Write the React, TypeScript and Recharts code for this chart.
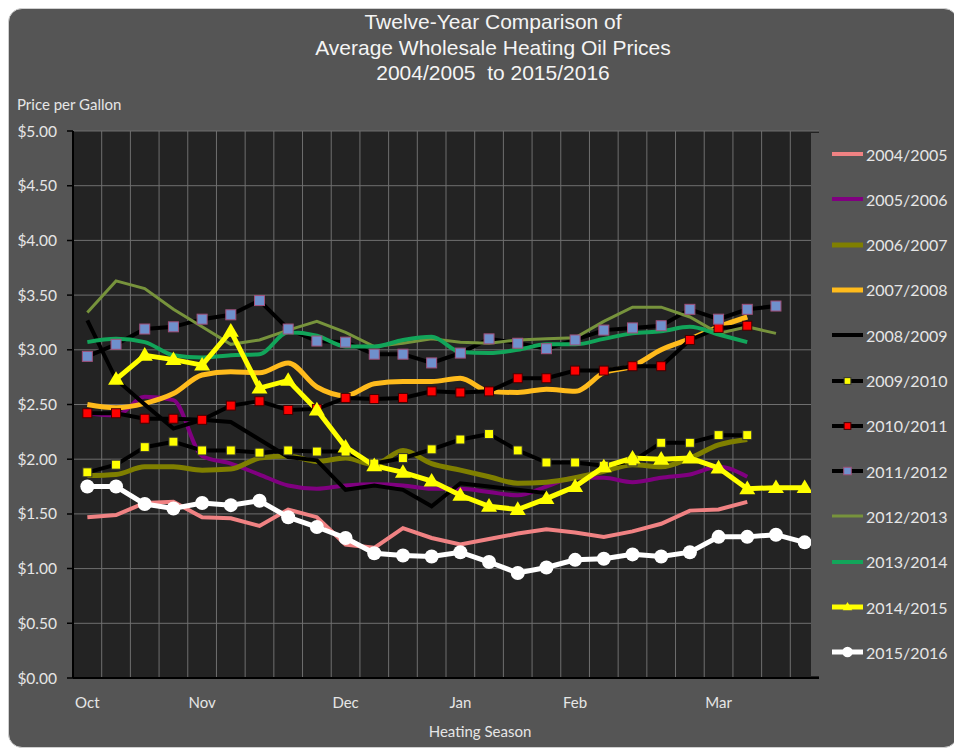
import React from 'react';
import { LineChart, Line, XAxis, YAxis, CartesianGrid, ReferenceLine } from 'recharts';

const seasons = [
  '2004/2005', '2005/2006', '2006/2007', '2007/2008', '2008/2009', '2009/2010',
  '2010/2011', '2011/2012', '2012/2013', '2013/2014', '2014/2015', '2015/2016',
];

const monthLabels = ['Oct', 'Nov', 'Dec', 'Jan', 'Feb', 'Mar'];
const monthWeeks = [0, 4, 9, 13, 17, 22];
const weekCount = 26;
const yTicks = [0, 0.5, 1, 1.5, 2, 2.5, 3, 3.5, 4, 4.5, 5];

const s0405 = [1.47, 1.49, 1.60, 1.61, 1.47, 1.46, 1.39, 1.54, 1.47, 1.22, 1.19, 1.37, 1.28, 1.22, 1.27, 1.32, 1.36, 1.33, 1.29, 1.34, 1.41, 1.53, 1.54, 1.61, null, null];
const s0506 = [2.42, 2.40, 2.57, 2.54, 2.03, 1.96, 1.86, 1.76, 1.73, 1.76, 1.77, 1.76, 1.73, 1.73, 1.70, 1.67, 1.75, 1.83, 1.83, 1.79, 1.83, 1.86, 1.93, 1.84, null, null];
const s0607 = [1.85, 1.86, 1.93, 1.93, 1.90, 1.91, 2.01, 2.03, 1.98, 2.01, 1.95, 2.08, 1.96, 1.90, 1.84, 1.78, 1.79, 1.83, 1.89, 1.95, 1.93, 2.01, 2.13, 2.18, null, null];
const s0708 = [2.50, 2.47, 2.51, 2.60, 2.77, 2.80, 2.79, 2.88, 2.66, 2.58, 2.69, 2.71, 2.71, 2.74, 2.62, 2.61, 2.64, 2.62, 2.79, 2.85, 3.00, 3.10, 3.21, 3.30, null, null];
const s0809 = [3.27, 2.73, 2.50, 2.28, 2.36, 2.34, 2.18, 2.02, 1.99, 1.72, 1.76, 1.72, 1.57, 1.78, 1.75, 1.72, 1.69, null, null, null, null, null, null, null, null, null];
const s0910 = [1.88, 1.95, 2.11, 2.16, 2.08, 2.08, 2.06, 2.08, 2.07, 2.07, 1.96, 2.01, 2.09, 2.18, 2.23, 2.08, 1.97, 1.97, 1.94, 1.98, 2.15, 2.15, 2.22, 2.22, null, null];
const s1011 = [2.42, 2.42, 2.37, 2.37, 2.36, 2.49, 2.53, 2.45, 2.46, 2.56, 2.55, 2.56, 2.62, 2.61, 2.62, 2.74, 2.74, 2.81, 2.81, 2.85, 2.85, 3.09, 3.20, 3.22, null, null];
const s1112 = [2.94, 3.05, 3.19, 3.21, 3.28, 3.32, 3.45, 3.19, 3.08, 3.07, 2.96, 2.96, 2.88, 2.97, 3.10, 3.06, 3.01, 3.09, 3.18, 3.20, 3.22, 3.37, 3.28, 3.37, 3.40, null];
const s1213 = [3.34, 3.63, 3.56, 3.37, 3.21, 3.05, 3.09, 3.18, 3.26, 3.16, 3.03, 3.06, 3.10, 3.07, 3.06, 3.09, 3.10, 3.11, 3.26, 3.39, 3.39, 3.30, 3.15, 3.21, 3.15, null];
const s1314 = [3.07, 3.10, 3.07, 2.95, 2.93, 2.95, 2.96, 3.16, 3.13, 3.03, 3.03, 3.09, 3.12, 2.98, 2.97, 3.00, 3.05, 3.05, 3.10, 3.15, 3.17, 3.21, 3.14, 3.07, null, null];
const s1415 = [null, 2.73, 2.95, 2.91, 2.86, 3.17, 2.65, 2.72, 2.45, 2.11, 1.94, 1.88, 1.80, 1.67, 1.57, 1.54, 1.64, 1.75, 1.93, 2.01, 2.00, 2.01, 1.92, 1.73, 1.74, 1.74];
const s1516 = [1.75, 1.75, 1.59, 1.55, 1.60, 1.58, 1.62, 1.47, 1.38, 1.28, 1.14, 1.12, 1.11, 1.15, 1.06, 0.96, 1.01, 1.08, 1.09, 1.13, 1.11, 1.15, 1.29, 1.29, 1.31, 1.24];

const seriesValues = [s0405, s0506, s0607, s0708, s0809, s0910, s1011, s1112, s1213, s1314, s1415, s1516];

type Marker = 'none' | 'square' | 'triangle' | 'circle';
interface SeriesStyle { color: string; width: number; curve: 'linear' | 'monotone'; marker: Marker; mFill?: string; mStroke?: string; mSize?: number; }

const styles: SeriesStyle[] = [
  { color: '#f08283', width: 4, curve: 'linear', marker: 'none' },
  { color: '#800080', width: 4, curve: 'monotone', marker: 'none' },
  { color: '#7f7f00', width: 5, curve: 'monotone', marker: 'none' },
  { color: '#ffbb1c', width: 5, curve: 'monotone', marker: 'none' },
  { color: '#000000', width: 4, curve: 'linear', marker: 'none' },
  { color: '#000000', width: 4, curve: 'linear', marker: 'square', mFill: '#ffff00', mStroke: '#333', mSize: 9 },
  { color: '#000000', width: 4, curve: 'linear', marker: 'square', mFill: '#ff0000', mStroke: '#400', mSize: 9 },
  { color: '#000000', width: 4, curve: 'linear', marker: 'square', mFill: '#6f90cc', mStroke: '#a0507a', mSize: 10 },
  { color: '#77933c', width: 3, curve: 'linear', marker: 'none' },
  { color: '#12a55a', width: 4, curve: 'monotone', marker: 'none' },
  { color: '#ffff00', width: 5, curve: 'linear', marker: 'triangle', mFill: '#ffff00', mSize: 16 },
  { color: '#ffffff', width: 5, curve: 'linear', marker: 'circle', mFill: '#ffffff', mSize: 14 },
];

const data = Array.from({ length: weekCount }, (_, i) => {
  const row: Record<string, number | null> = { x: i + 0.5 };
  seasons.forEach((s, k) => { row[s] = seriesValues[k][i]; });
  return row;
});

const gridTicks = Array.from({ length: weekCount + 1 }, (_, i) => i);
const monthTicks = monthWeeks.map((w) => w + 0.5);

function markerShape(st: SeriesStyle, cx: number, cy: number, scale: number, key?: string) {
  const s = (st.mSize || 8) * scale;
  if (st.marker === 'square') {
    return <rect key={key} x={cx - s / 2} y={cy - s / 2} width={s} height={s} fill={st.mFill} stroke={st.mStroke} strokeWidth={1} />;
  }
  if (st.marker === 'triangle') {
    const h = s * 0.85;
    return <polygon key={key} points={`${cx},${cy - h * 0.6} ${cx - s / 2},${cy + h * 0.4} ${cx + s / 2},${cy + h * 0.4}`} fill={st.mFill} />;
  }
  if (st.marker === 'circle') {
    return <circle key={key} cx={cx} cy={cy} r={s / 2} fill={st.mFill} />;
  }
  return <g key={key} />;
}

const makeDot = (st: SeriesStyle, name: string) => (props: any) => {
  const { cx, cy, index, value } = props;
  const k = `${name}-${index}`;
  if (cx == null || cy == null || value == null || Number.isNaN(cy)) return <g key={k} />;
  return markerShape(st, cx, cy, 1, k);
};

const font = 'Lato, "Open Sans", sans-serif';
const textColor = '#e6e6e6';
const gridColor = '#6f6f6f';

function LegendBox() {
  return (
    <div style={{ position: 'absolute', left: 802, top: 124, width: 146, height: 543, background: '#555555' }}>
      {seasons.map((s, k) => {
        const st = styles[k];
        return (
          <div key={s} style={{ position: 'absolute', left: 21, top: 21 + k * 45.3 - 11, height: 22, display: 'flex', alignItems: 'center' }}>
            <svg width={31} height={16} style={{ display: 'block' }}>
              <line x1={0} y1={8} x2={31} y2={8} stroke={st.color} strokeWidth={st.width} />
              {st.marker !== 'none' ? markerShape(st, 15.5, 8, st.marker === 'triangle' ? 0.6 : 0.75) : null}
            </svg>
            <span style={{ marginLeft: 3, fontFamily: font, fontSize: 16, color: textColor }}>{s}</span>
          </div>
        );
      })}
    </div>
  );
}

export default function App() {
  return (
    <div style={{ position: 'relative', width: 948, height: 738, background: '#555555', border: '1px solid #cfcfcf', borderRadius: 14, overflow: 'hidden' }}>
      <div style={{ position: 'absolute', left: 184, top: 0, width: 600, textAlign: 'center', fontFamily: '"Liberation Sans", Arial, sans-serif', fontSize: 21, lineHeight: '25.5px', color: '#f4f4f4' }}>
        <div>Twelve-Year Comparison of</div>
        <div>Average Wholesale Heating Oil Prices</div>
        <div>2004/2005&nbsp; to 2015/2016</div>
      </div>
      <div style={{ position: 'absolute', left: 8, top: 86, fontFamily: font, fontSize: 15, color: textColor }}>Price per Gallon</div>
      <LineChart width={948} height={738} data={data} margin={{ top: 122, right: 138, bottom: 38, left: 4 }}>
        <CartesianGrid stroke={gridColor} strokeWidth={1} fill="#232323" vertical={false} />
        <XAxis xAxisId={0} type="number" dataKey="x" domain={[0, weekCount]} ticks={gridTicks} tick={false} tickLine={false} height={1} axisLine={{ stroke: '#000', strokeWidth: 2 }} allowDataOverflow />
        <XAxis xAxisId="months" type="number" dataKey="x" domain={[0, weekCount]} ticks={monthTicks} tickLine={false} axisLine={false} height={30} tickSize={6} tickMargin={12}
          tickFormatter={(v: number) => monthLabels[monthWeeks.indexOf(Math.round(v - 0.5))] || ''}
          tick={{ fill: textColor, fontFamily: font, fontSize: 15 }} interval={0} />
        <YAxis type="number" domain={[0, 5]} ticks={yTicks} width={60} interval={0} tickSize={6} tickMargin={10}
          tickFormatter={(v: number) => `$${v.toFixed(2)}`}
          axisLine={{ stroke: '#000', strokeWidth: 2 }} tickLine={{ stroke: '#000', strokeWidth: 1.5 }}
          tick={{ fill: textColor, fontFamily: font, fontSize: 15.5 }} />
        {gridTicks.slice(1, -1).map((t) => (
          <ReferenceLine key={`g${t}`} xAxisId={0} x={t} stroke={gridColor} strokeWidth={1} ifOverflow="visible" />
        ))}
        {seasons.map((s, k) => {
          const st = styles[k];
          return (
            <Line key={s} xAxisId={0} type={st.curve} dataKey={s} name={s} stroke={st.color} strokeWidth={st.width}
              dot={st.marker === 'none' ? false : makeDot(st, s)} activeDot={false} isAnimationActive={false} connectNulls={false} />
          );
        })}
      </LineChart>
      <LegendBox />
      <div style={{ position: 'absolute', left: 371, top: 713, width: 200, textAlign: 'center', fontFamily: font, fontSize: 15, color: textColor }}>Heating Season</div>
    </div>
  );
}
